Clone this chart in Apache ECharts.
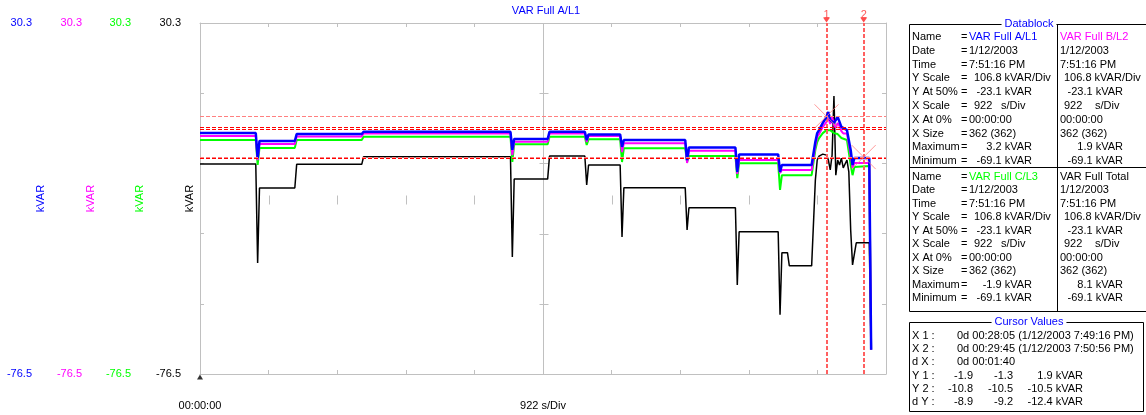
<!DOCTYPE html>
<html>
<head>
<meta charset="utf-8">
<script src="https://cdn.jsdelivr.net/npm/echarts@6.0.0/dist/echarts.min.js"></script>
<style>
html,body{margin:0;padding:0;background:#fff;}
#chart{width:1146px;height:415px;}
</style>
</head>
<body>
<div id="chart"></div>
<script>
// ---------------- DATA ----------------
const chartTitle = 'VAR Full A/L1';
const channelNames = ['VAR Full A/L1', 'VAR Full B/L2', 'VAR Full C/L3', 'VAR Full Total'];
const yUnit = 'kVAR';
const yMin = -76.5, yMax = 30.3;
const xMin = 0, xMax = 1845;              // seconds
const xLabelValues = [0, 922.5];
const xLabelTexts = ['00:00:00', '922 s/Div'];

// sample times (s) and the four channels (kVAR)
const times = [0,150,155,160,255,260,435,440,835,840,845,935,940,1035,1040,1045,1130,1135,1140,1305,1310,1315,1440,1445,1450,1555,1560,1565,1580,1585,1645,1655,1660,1665,1675,1685,1690,1695,1700,1705,1710,1715,1720,1725,1730,1740,1745,1750,1755,1760,1765,1800,1805];
const varA = [-3.2,-3.2,-10.8,-5.6,-5.6,-3.5,-3.5,-2.8,-2.8,-8.3,-5.0,-5.0,-2.8,-2.8,-5.3,-3.6,-3.6,-7.4,-5.3,-5.3,-11.4,-7.6,-7.6,-15.0,-9.7,-9.7,-15.0,-12.9,-12.9,-12.9,-12.9,-5.8,-3.2,-2.3,-0.1,1.7,3.2,0.8,1.4,-0.1,-0.7,1.7,0.2,-1.3,-1.6,-2.3,-2.3,-8.3,-12.9,-10.8,-10.8,-10.8,-69.1];
const varB = [-4.1,-4.1,-11.4,-6.5,-6.5,-4.2,-4.2,-3.3,-3.3,-9.9,-5.8,-5.8,-3.3,-3.3,-5.9,-4.1,-4.1,-9.0,-6.3,-6.3,-12.3,-8.6,-8.6,-15.6,-11.4,-11.4,-15.3,-14.4,-14.4,-14.4,-14.4,-7.1,-4.4,-3.5,-1.3,0.2,1.4,-0.4,1.9,-0.7,-1.6,-0.1,-1.0,-2.6,-3.3,-3.3,-3.3,-9.9,-13.8,-12.3,-12.3,-12.3,-69.1];
const varC = [-5.3,-5.3,-12.9,-7.7,-7.7,-5.3,-5.3,-4.3,-4.3,-12.0,-6.6,-6.6,-4.3,-4.3,-6.8,-5.1,-5.1,-12.0,-7.8,-7.8,-12.0,-10.2,-10.2,-16.9,-12.4,-12.4,-20.5,-16.0,-16.0,-16.0,-16.0,-8.3,-5.9,-4.7,-3.2,-2.3,-2.6,-2.3,-1.9,-3.2,-3.8,-3.5,-4.1,-4.7,-5.3,-5.3,-5.3,-12.9,-16.0,-13.5,-13.2,-13.2,-69.1];
const varTotal = [-12.6,-12.6,-42.7,-19.9,-19.9,-12.7,-12.7,-10.4,-10.4,-40.9,-17.2,-17.2,-10.2,-10.2,-19.0,-12.9,-12.9,-34.8,-19.8,-19.8,-32.7,-25.9,-25.9,-49.4,-33.2,-33.2,-58.5,-39.6,-39.6,-43.6,-43.6,-17.5,-11.4,-10.2,-9.6,-9.9,-11.4,-14.4,-9.9,8.1,-16.0,-11.4,-12.9,-10.8,-13.8,-11.4,-15.0,-32.7,-43.3,-43.3,-36.6,-36.6,-69.1];

// cursors
const cursorX = [1685, 1785];
const cursorY1 = [-1.9, -1.3, 1.9];
const cursorY2 = [-10.8, -10.5, -10.5];
const cursorDY = [-8.9, -9.2, -12.4];
const cursorTimeTexts = ['0d 00:28:05 (1/12/2003 7:49:16 PM)', '0d 00:29:45 (1/12/2003 7:50:56 PM)', '0d 00:01:40'];
const cursorRowLabels = ['X 1 :', 'X 2 :', 'd X :', 'Y 1 :', 'Y 2 :', 'd Y :'];

// datablock
const dbLabels = ['Name','Date','Time','Y Scale','Y At 50%','X Scale','X At 0%','X Size','Maximum','Minimum'];
const dbA = ['VAR Full A/L1','1/12/2003','7:51:16 PM','106.8 kVAR/Div','-23.1 kVAR','922','00:00:00','362 (362)','3.2 kVAR','-69.1 kVAR'];
const dbB = ['VAR Full B/L2','1/12/2003','7:51:16 PM','106.8 kVAR/Div','-23.1 kVAR','922','00:00:00','362 (362)','1.9 kVAR','-69.1 kVAR'];
const dbC = ['VAR Full C/L3','1/12/2003','7:51:16 PM','106.8 kVAR/Div','-23.1 kVAR','922','00:00:00','362 (362)','-1.9 kVAR','-69.1 kVAR'];
const dbT = ['VAR Full Total','1/12/2003','7:51:16 PM','106.8 kVAR/Div','-23.1 kVAR','922','00:00:00','362 (362)','8.1 kVAR','-69.1 kVAR'];
const xScaleUnit = 's/Div';

// ---------------- STYLE / LAYOUT ----------------
const FONT = '"Liberation Sans", Arial, sans-serif';
const colors = ['#0000ff', '#ff00ff', '#00ff00', '#000000'];
const frameColor = '#c0c0c0';
const GRID = {left: 200, top: 23, width: 686, height: 351, containLabel: false, outerBoundsMode: 'none'};

const xDiv = 10, yDiv = 5;
const xTickVals = [], yTickVals = [];
for (let i = 0; i <= xDiv; i++) xTickVals.push(xMin + (xMax - xMin) * i / xDiv);
for (let i = 0; i <= yDiv; i++) yTickVals.push(+(yMin + (yMax - yMin) * i / yDiv).toFixed(4));
const xCenter = (xMin + xMax) / 2, yCenter = (yMin + yMax) / 2;

const pair = arr => times.map((t, i) => [t, arr[i]]);

const axisOffsets = [149, 99, 50, 0];
const yAxes = colors.map((c, i) => ({
  type: 'value', min: yMin, max: yMax, position: 'left', offset: axisOffsets[i],
  name: yUnit, nameLocation: 'middle', nameGap: 5, nameRotate: 90, nameMoveOverlap: false,
  nameTextStyle: {color: c, fontSize: 11, fontFamily: FONT},
  axisLine: {show: i === 3, lineStyle: {color: frameColor, width: 1}},
  axisTick: {show: i === 3, inside: true, length: 4, customValues: yTickVals, lineStyle: {color: frameColor}},
  axisLabel: {show: true, customValues: [yMin, yMax], color: c, fontSize: 11, fontFamily: FONT, margin: 19,
              formatter: v => v.toFixed(1)},
  splitLine: {show: false}
}));
yAxes.push({
  type: 'value', min: yMin, max: yMax, position: 'right',
  axisLine: {show: true, lineStyle: {color: frameColor}},
  axisTick: {show: true, inside: true, length: 4, customValues: yTickVals, lineStyle: {color: frameColor}},
  axisLabel: {show: false}, splitLine: {show: false}
});

const xAxes = [
  {type: 'value', min: xMin, max: xMax, position: 'bottom', nameMoveOverlap: false,
   axisLine: {show: true, onZero: false, lineStyle: {color: frameColor}},
   axisTick: {show: true, inside: true, length: 4, customValues: xTickVals, lineStyle: {color: frameColor}},
   axisLabel: {show: true, customValues: xLabelValues, margin: 26, color: '#000', fontSize: 11, fontFamily: FONT,
               formatter: (v, i) => xLabelTexts[xLabelValues.indexOf(v)] ?? xLabelTexts[i]},
   splitLine: {show: false}},
  {type: 'value', min: xMin, max: xMax, position: 'top',
   axisLine: {show: true, onZero: false, lineStyle: {color: frameColor}},
   axisTick: {show: true, inside: true, length: 4, customValues: xTickVals, lineStyle: {color: frameColor}},
   axisLabel: {show: false}, splitLine: {show: false}}
];

// ---------------- GRAPHICS (datablock text panel) ----------------
function txt(x, y, s, fill, align) {
  return {type: 'text', x: x, y: y, silent: true, z: 10,
    style: {text: s, fill: fill || '#000', font: '11px ' + FONT,
            align: align || 'left', verticalAlign: 'middle', textAlign: align || 'left', textVerticalAlign: 'middle'}};
}
function hline(x1, x2, y) { return {type: 'line', silent: true, z: 9, shape: {x1: x1, y1: y, x2: x2, y2: y}, style: {stroke: '#000', lineWidth: 1}}; }
function vline(x, y1, y2) { return {type: 'line', silent: true, z: 9, shape: {x1: x, y1: y1, x2: x, y2: y2}, style: {stroke: '#000', lineWidth: 1}}; }

const g = [];
g.push(hline(909.5, 1146, 24.5), vline(909.5, 24.5, 311.5), hline(909.5, 1146, 311.5), hline(909.5, 1146, 167.5), vline(1057.5, 24.5, 311.5));
g.push(txt(1029, 24, 'Datablock', '#0000ff', 'center'));
g[g.length - 1].style.backgroundColor = '#fff';
g[g.length - 1].style.padding = [0, 3];

function block(vals, y0, step, right, nameColor) {
  const c = right ? {val: 1060, sc: 1064, unit: 1095, ra: 1123}
                  : {val: 969, sc: 974, unit: 1001, ra: 1032};
  vals.forEach((v, k) => {
    const y = y0 + step * k;
    if (!right) { g.push(txt(912, y, dbLabels[k])); g.push(txt(961, y, '=')); }
    const col = k === 0 ? nameColor : '#000';
    if (k === 3) g.push(txt(c.sc, y, v, col));
    else if (k === 5) { g.push(txt(c.sc, y, v, col)); g.push(txt(c.unit, y, xScaleUnit, col)); }
    else if (k === 4 || k === 8 || k === 9) g.push(txt(c.ra, y, v, col, 'right'));
    else g.push(txt(c.val, y, v, col));
  });
}
block(dbA, 37, 13.8, false, colors[0]);
block(dbB, 37, 13.8, true, colors[1]);
block(dbC, 176.5, 13.55, false, colors[2]);
block(dbT, 176.5, 13.55, true, colors[3]);

g.push(hline(909.5, 1143.5, 322.5), vline(909.5, 322.5, 411.5), hline(909.5, 1143.5, 411.5), vline(1143.5, 322.5, 411.5));
g.push(txt(1029, 322, 'Cursor Values', '#0000ff', 'center'));
g[g.length - 1].style.backgroundColor = '#fff';
g[g.length - 1].style.padding = [0, 3];
cursorRowLabels.forEach((l, k) => g.push(txt(912, 336 + 13.2 * k, l)));
cursorTimeTexts.forEach((s, k) => g.push(txt(957, 336 + 13.2 * k, s)));
[cursorY1, cursorY2, cursorDY].forEach((row, r) => {
  const y = 336 + 13.2 * (3 + r);
  g.push(txt(973, y, row[0].toFixed(1), '#000', 'right'));
  g.push(txt(1013, y, row[1].toFixed(1), '#000', 'right'));
  g.push(txt(1083, y, row[2].toFixed(1) + ' kVAR', '#000', 'right'));
});

// ---------------- SERIES ----------------
const lineSeries = (name, arr, color, width, z) => ({
  name: name, type: 'line', data: pair(arr), xAxisIndex: 0, yAxisIndex: 3,
  showSymbol: false, symbol: 'none', animation: false, silent: true, z: z,
  lineStyle: {color: color, width: width}
});

const crossStyle = {stroke: frameColor, lineWidth: 1};
const crosshair = {
  type: 'custom', xAxisIndex: 0, yAxisIndex: 3, silent: true, z: 1, clip: false, animation: false,
  data: [[xCenter, yCenter]],
  renderItem: (params, api) => {
    const c = api.coord([api.value(0), api.value(1)]);
    const top = api.coord([xCenter, yMax]), bot = api.coord([xCenter, yMin]);
    const cx = Math.round(c[0]) + 0.5, cy = Math.round(c[1]) + 0.5;
    const ch = [{type: 'line', shape: {x1: cx, y1: top[1], x2: cx, y2: bot[1]}, style: crossStyle}];
    yTickVals.forEach(v => {
      const p = api.coord([xCenter, v]); const py = Math.round(p[1]) + 0.5;
      ch.push({type: 'line', shape: {x1: cx - 4, y1: py, x2: cx + 5, y2: py}, style: crossStyle});
    });
    xTickVals.forEach(v => {
      const p = api.coord([v, yCenter]); const px = Math.round(p[0]) + 0.5;
      ch.push({type: 'line', shape: {x1: px, y1: cy - 4, x2: px, y2: cy + 5}, style: crossStyle});
    });
    return {type: 'group', children: ch};
  }
};

// horizontal cursor levels (drawn through the y scale)
const cursorLevels = {
  type: 'custom', xAxisIndex: 0, yAxisIndex: 3, silent: true, z: 7, clip: false, animation: false,
  data: cursorY1.concat(cursorY2).map((v, i) => [xMin, v, i % 3 === 2 ? 1 : 0]),
  renderItem: (params, api) => {
    const p1 = api.coord([xMin, api.value(1)]);
    const p2 = api.coord([xMax, api.value(1)]);
    const y = Math.round(p1[1]) + 0.5;
    return {type: 'line', shape: {x1: p1[0], y1: y, x2: p2[0], y2: y},
            style: {stroke: api.value(2) ? '#ff8080' : '#ff0000', lineWidth: 1, lineDash: [4, 2], fill: null}};
  }
};

const vLines = cursorX.map(x => ({xAxis: x, lineStyle: {color: '#ff6060', width: 2, type: [4, 2]}}));

const cursorSeries = {
  type: 'scatter', xAxisIndex: 0, yAxisIndex: 3, silent: true, z: 8, clip: false, animation: false,
  data: cursorX.map(x => [x, yMax]),
  symbol: 'triangle', symbolRotate: 180, symbolSize: [7, 5], symbolOffset: [0, -3],
  itemStyle: {color: '#ff2020'},
  label: {show: true, position: 'top', distance: -3, color: '#ff3030', fontSize: 11, fontFamily: FONT,
          formatter: p => String(p.dataIndex + 1)},
  markLine: {silent: true, symbol: 'none', animation: false, label: {show: false}, data: vLines}
};

const xMarkers = {
  type: 'scatter', xAxisIndex: 0, yAxisIndex: 3, silent: true, z: 7, clip: false, animation: false,
  data: [[cursorX[0], cursorY1[2]], [cursorX[1], cursorY2[2]]],
  symbol: 'path://M0,0L24,24M24,0L0,24', symbolSize: 24,
  itemStyle: {color: 'rgba(0,0,0,0)', borderColor: '#ff8080', borderWidth: 1}
};

const trigMarker = {
  type: 'scatter', xAxisIndex: 0, yAxisIndex: 3, silent: true, z: 8, clip: false, animation: false,
  data: [[xMin, yMin]], symbol: 'triangle', symbolSize: [6, 5], symbolOffset: [0, 3],
  itemStyle: {color: '#000'}
};

const option = {
  animation: false,
  backgroundColor: '#fff',
  textStyle: {fontFamily: FONT},
  title: {text: chartTitle, left: 541, top: 0, textAlign: 'center',
          textStyle: {color: '#0000ff', fontSize: 11, fontWeight: 'normal', fontFamily: FONT}},
  grid: GRID,
  xAxis: xAxes,
  yAxis: yAxes,
  series: [
    crosshair,
    lineSeries(channelNames[3], varTotal, colors[3], 1.5, 2),
    lineSeries(channelNames[2], varC, colors[2], 2, 3),
    lineSeries(channelNames[1], varB, colors[1], 2, 4),
    lineSeries(channelNames[0], varA, colors[0], 2.5, 5),
    cursorLevels, xMarkers, cursorSeries, trigMarker
  ],
  graphic: g
};

const chart = echarts.init(document.getElementById('chart'), null, {renderer: 'canvas'});
chart.setOption(option);
</script>
</body>
</html>
